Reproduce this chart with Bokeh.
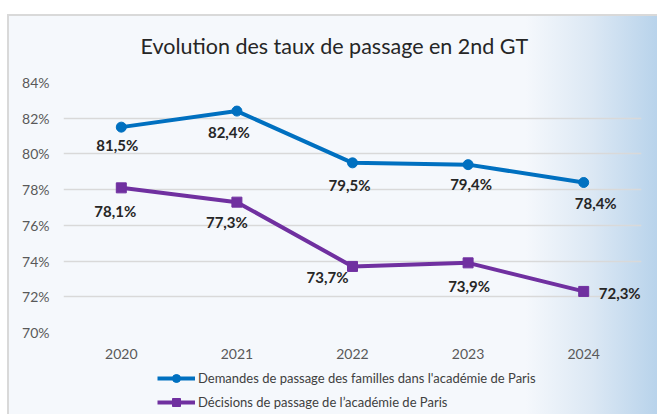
from bokeh.plotting import figure
from bokeh.layouts import column
from bokeh.models import (ColumnDataSource, FixedTicker, PrintfTickFormatter,
                          Legend, LegendItem, FactorRange, Range1d)
from bokeh.core.properties import value
from bokeh.embed import file_html
from bokeh.resources import INLINE

# ---- data ----
years = ["2020", "2021", "2022", "2023", "2024"]
demandes = [81.5, 82.4, 79.5, 79.4, 78.4]
decisions = [78.1, 77.3, 73.7, 73.9, 72.3]
y_ticks = [70, 72, 74, 76, 78, 80, 82, 84]
title_text = "Evolution des taux de passage en 2nd GT"
name_demandes = "Demandes de passage des familles dans l'académie de Paris"
name_decisions = "Décisions de passage de l’académie de Paris"

# ---- label placement (screen px offsets from each point) ----
dem_dx = [-4, -8, -3, 3, 12]
dem_dy = [18, 21, 22, 19, 20]
dec_dx = [-6, -10, -25, 1, 36]
dec_dy = [23, 20, 11, 23, 2]

BLUE = "#0070c0"
PURPLE = "#7030a0"
FONT = "Lato"
GRAD = "linear-gradient(to right, #f5f8fc 0%, #f5f8fc 80%, #dce8f4 90%, #b8d3eb 100%)"
LEFT_WHITE = "linear-gradient(to right, #ffffff 0px, #ffffff 7px, rgba(0,0,0,0) 7px)"
LEFT_BORDER = "linear-gradient(to right, rgba(0,0,0,0) 7px, #d9d9d9 7px, #d9d9d9 9px, rgba(0,0,0,0) 9px)"
TOP_BAND = "linear-gradient(to bottom, #ffffff 0px, #ffffff 14px, #d9d9d9 14px, #d9d9d9 16px, rgba(0,0,0,0) 16px)"


def fmt(v):
    return f"{v:.1f}%".replace(".", ",")


src_dem = ColumnDataSource(dict(x=years, y=demandes,
                                lbl=[fmt(v) for v in demandes],
                                dx=dem_dx, dy=dem_dy))
src_dec = ColumnDataSource(dict(x=years, y=decisions,
                                lbl=[fmt(v) for v in decisions],
                                dx=dec_dx, dy=dec_dy))

x_range = FactorRange(*years, range_padding=0)

p = figure(width=657, height=364,
           x_range=x_range,
           y_range=Range1d(70, 84),
           output_backend="svg", toolbar_location=None,
           min_border_left=63, min_border_right=16,
           min_border_top=82, min_border_bottom=32)

p.styles = {"background": ", ".join([LEFT_WHITE, TOP_BAND, LEFT_BORDER, GRAD])}
p.border_fill_color = None
p.background_fill_color = None
p.outline_line_color = None

# title
p.title.text = title_text
p.title.align = "left"
p.title.offset = 77
p.title.standoff = 48
p.title.text_font = FONT
p.title.text_font_size = "21.5px"
p.title.text_font_style = "normal"
p.title.text_color = "#262626"

# axes
for ax in (p.xaxis[0], p.yaxis[0]):
    ax.axis_line_color = None
    ax.major_tick_line_color = None
    ax.minor_tick_line_color = None
    ax.major_tick_out = 0
    ax.major_tick_in = 0
    ax.major_label_text_font = FONT
    ax.major_label_text_font_size = "14px"
    ax.major_label_text_color = "#595959"
p.yaxis[0].ticker = FixedTicker(ticks=y_ticks)
p.yaxis[0].formatter = PrintfTickFormatter(format="%d%%")
p.yaxis[0].major_label_standoff = 14
p.xaxis[0].major_label_standoff = 16

p.xgrid.grid_line_color = None
p.ygrid.grid_line_color = "#d9d9d9"
p.ygrid.grid_line_width = 1.5

# series
l1 = p.line("x", "y", source=src_dem, line_color=BLUE, line_width=4)
m1 = p.scatter("x", "y", source=src_dem, marker="circle", size=10,
               fill_color=BLUE, line_color=BLUE)
l2 = p.line("x", "y", source=src_dec, line_color=PURPLE, line_width=4)
m2 = p.scatter("x", "y", source=src_dec, marker="square", size=10,
               fill_color=PURPLE, line_color=PURPLE)

for src in (src_dem, src_dec):
    p.text("x", "y", text="lbl", source=src, x_offset="dx", y_offset="dy",
           text_font=value(FONT), text_font_size="15px", text_font_style="bold",
           text_color="#262626", text_align="center", text_baseline="middle")

# ---- legend strip below the chart (same series, outside its visible y-range) ----
pl = figure(width=657, height=50, x_range=x_range, y_range=Range1d(0, 1),
            output_backend="svg", toolbar_location=None,
            x_axis_type=None, y_axis_type=None,
            min_border_left=63, min_border_right=16,
            min_border_top=0, min_border_bottom=0)
pl.styles = {"background": ", ".join([LEFT_WHITE, LEFT_BORDER, GRAD])}
pl.border_fill_color = None
pl.background_fill_color = None
pl.outline_line_color = None
pl.grid.visible = False

d1 = pl.line("x", "y", source=src_dem, line_color=BLUE, line_width=4)
dm1 = pl.scatter("x", "y", source=src_dem, marker="circle", size=9,
                 fill_color=BLUE, line_color=BLUE)
d2 = pl.line("x", "y", source=src_dec, line_color=PURPLE, line_width=4)
dm2 = pl.scatter("x", "y", source=src_dec, marker="square", size=9,
                 fill_color=PURPLE, line_color=PURPLE)

legend = Legend(items=[LegendItem(label=name_demandes, renderers=[d1, dm1]),
                       LegendItem(label=name_decisions, renderers=[d2, dm2])],
                location=(94, 2), orientation="vertical",
                glyph_width=38, glyph_height=20, label_height=20,
                label_standoff=3, spacing=4, padding=0, margin=0,
                label_text_font=FONT, label_text_font_size="13px",
                label_text_color="#404040",
                background_fill_color=None, background_fill_alpha=0,
                border_line_color=None)
pl.add_layout(legend)

page = column(p, pl, spacing=0)
open("out.html", "w").write(file_html(page, INLINE))
